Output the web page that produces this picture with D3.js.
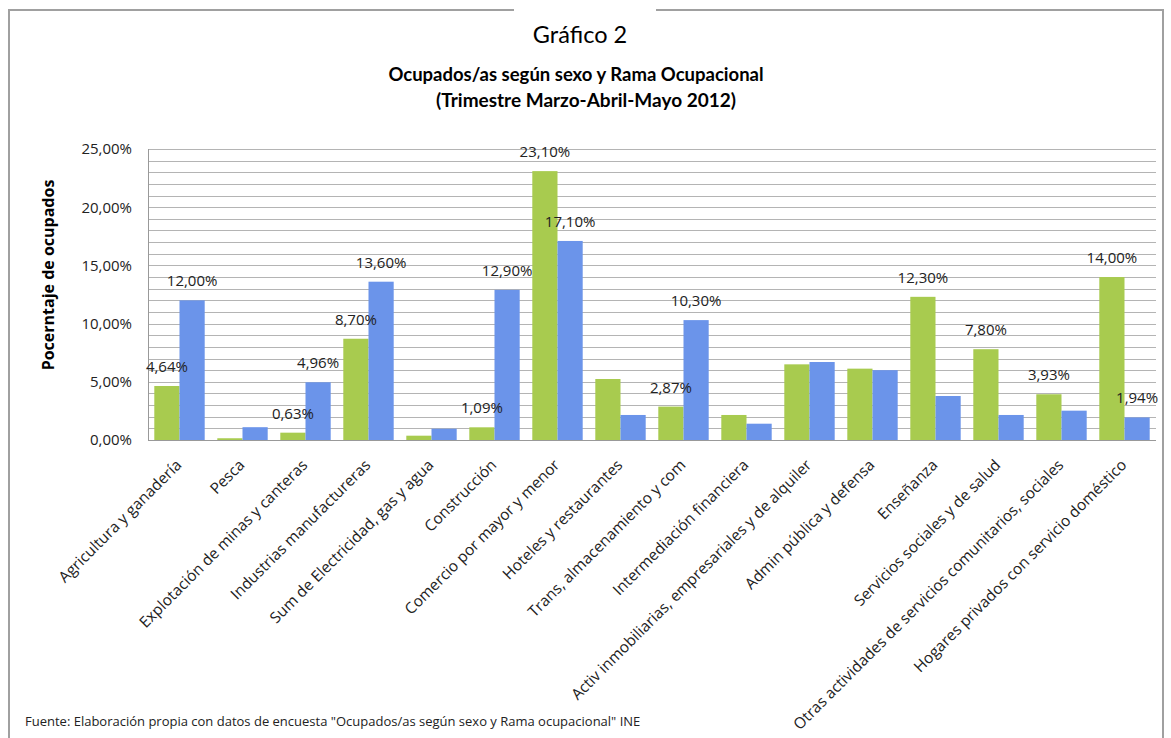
<!DOCTYPE html>
<html>
<head>
<meta charset="utf-8">
<script src="https://cdn.jsdelivr.net/npm/d3@7"></script>
<style>
  body { margin: 0; background: #fff; overflow: hidden; }
  svg { display: block; font-family: "Open Sans", sans-serif; }
  .title { font-family: Lato, sans-serif; fill: #000; }
  .grid line { stroke: #b4b4b4; stroke-width: 1; }
  .val { font-size: 15px; fill: #222; text-anchor: middle; }
</style>
</head>
<body>
<div id="chart"></div>
<script>
"use strict";

// ramas de actividad
const categories = [
  "Agricultura y ganadería", "Pesca", "Explotación de minas y canteras",
  "Industrias manufactureras", "Sum de Electricidad, gas y agua", "Construcción",
  "Comercio por mayor y menor", "Hoteles y restaurantes", "Trans, almacenamiento y com",
  "Intermediación financiera", "Activ inmobiliarias, empresariales y de alquiler",
  "Admin pública y defensa", "Enseñanza", "Servicios sociales y de salud",
  "Otras actividades de servicios comunitarios, sociales",
  "Hogares privados con servicio doméstico"
];

// % ocupados (verde / azul)
const mujeres = [4.64, 0.15, 0.63, 8.70, 0.37, 1.09, 23.10, 5.24, 2.87, 2.15, 6.50, 6.13, 12.30, 7.80, 3.93, 14.00];
const hombres = [12.00, 1.10, 4.96, 13.60, 0.97, 12.90, 17.10, 2.15, 10.30, 1.40, 6.70, 6.00, 3.78, 2.15, 2.52, 1.94];

// which bars carry a value label
const labelMujeres = [1, 0, 1, 1, 0, 1, 1, 0, 1, 0, 0, 0, 1, 1, 1, 1];
const labelHombres = [1, 0, 1, 1, 0, 1, 1, 0, 1, 0, 0, 0, 0, 0, 0, 1];

const yTicks = [0, 5, 10, 15, 20, 25];
const gridValues = d3.range(0, 26, 1);

const width = 1171, height = 738;
const margin = { top: 149, right: 15, bottom: 298, left: 148 };
const innerWidth = width - margin.left - margin.right;
const innerHeight = height - margin.top - margin.bottom;

const colors = { m: "#a8cb4f", h: "#6b94ea" };

const locale = d3.formatLocale({ decimal: ",", thousands: ".", grouping: [3], currency: ["", ""] });
const pct = v => locale.format(".2f")(v) + "%";

const svg = d3.select("#chart").append("svg")
  .attr("width", width)
  .attr("height", height);

// frame
const frame = svg.append("g").attr("stroke", "#a0a0a0").attr("stroke-width", 2).attr("fill", "none");
frame.append("path").attr("d", `M9,${height} V10 H514`);
frame.append("path").attr("d", `M656,10 H1163 V${height}`);

// titles
svg.append("text").attr("class", "title")
  .attr("x", 580).attr("y", 43)
  .attr("text-anchor", "middle")
  .style("font-size", "23.5px")
  .text("Gráfico 2");
svg.append("text").attr("class", "title")
  .attr("x", 576).attr("y", 81)
  .attr("text-anchor", "middle")
  .style("font-size", "18.5px").style("font-weight", "bold")
  .text("Ocupados/as según sexo y Rama Ocupacional");
svg.append("text").attr("class", "title")
  .attr("x", 586).attr("y", 107)
  .attr("text-anchor", "middle")
  .style("font-size", "19px").style("font-weight", "bold")
  .text("(Trimestre Marzo-Abril-Mayo 2012)");

const container = svg.append("g")
  .attr("transform", `translate(${margin.left}, ${margin.top})`);

const xScale = d3.scaleBand()
  .domain(categories)
  .range([0, innerWidth])
  .paddingInner(0.2)
  .paddingOuter(0.1);

const xSub = d3.scaleBand()
  .domain(["m", "h"])
  .range([0, xScale.bandwidth()]);

const yScale = d3.scaleLinear()
  .domain([0, 25])
  .range([innerHeight, 0]);

// gridlines
container.append("g").attr("class", "grid")
  .selectAll("line")
  .data(gridValues).enter()
  .append("line")
    .attr("x1", 0).attr("x2", innerWidth)
    .attr("y1", d => Math.round(yScale(d)) + 0.5)
    .attr("y2", d => Math.round(yScale(d)) + 0.5);

// y axis
const yAxis = d3.axisLeft(yScale)
  .tickValues(yTicks)
  .tickFormat(pct)
  .tickSize(0)
  .tickPadding(16);
const yAxisG = container.append("g").call(yAxis);
yAxisG.select(".domain").remove();
yAxisG.selectAll("text")
  .style("font-family", "'Open Sans', sans-serif")
  .style("font-size", "15px")
  .attr("fill", "#222");

container.append("line")
  .attr("x1", 0.5).attr("x2", 0.5)
  .attr("y1", 0).attr("y2", innerHeight)
  .attr("stroke", "#999");

// bars
const rows = categories.map((c, i) => ({
  category: c,
  values: [
    { key: "m", value: mujeres[i], label: labelMujeres[i] },
    { key: "h", value: hombres[i], label: labelHombres[i] }
  ]
}));

const groups = container.selectAll(".cat")
  .data(rows).enter()
  .append("g")
    .attr("class", "cat")
    .attr("transform", d => `translate(${xScale(d.category)}, 0)`);

groups.selectAll("rect")
  .data(d => d.values).enter()
  .append("rect")
    .attr("x", d => xSub(d.key))
    .attr("y", d => yScale(d.value))
    .attr("width", xSub.bandwidth())
    .attr("height", d => innerHeight - yScale(d.value))
    .attr("fill", d => colors[d.key]);

groups.selectAll(".val")
  .data(d => d.values.filter(v => v.label)).enter()
  .append("text")
    .attr("class", "val")
    .attr("x", d => xSub(d.key) + xSub.bandwidth() / 2)
    .attr("y", d => yScale(d.value) - 14)
    .text(d => pct(d.value));

// x axis
container.append("line")
  .attr("x1", 0).attr("x2", innerWidth)
  .attr("y1", innerHeight + 0.5).attr("y2", innerHeight + 0.5)
  .attr("stroke", "#999");

const xAxis = d3.axisBottom(xScale).tickSize(0);
const xAxisG = container.append("g")
  .attr("transform", `translate(0, ${innerHeight})`)
  .call(xAxis);
xAxisG.select(".domain").remove();
xAxisG.selectAll("text")
  .style("font-family", "'Open Sans', sans-serif")
  .style("font-size", "15.4px")
  .attr("fill", "#222")
  .attr("text-anchor", "end")
  .attr("x", 0).attr("y", 0).attr("dy", 0)
  .attr("transform", "translate(3, 26) rotate(-45)");

// y axis title
svg.append("text")
  .attr("transform", "translate(54, 275) rotate(-90)")
  .attr("text-anchor", "middle")
  .style("font-size", "16px")
  .style("font-weight", "bold")
  .text("Pocerntaje de ocupados");

// source
svg.append("text")
  .attr("x", 25).attr("y", 726)
  .style("font-size", "13px")
  .attr("fill", "#222")
  .text("Fuente: Elaboración propia con datos de encuesta \"Ocupados/as según sexo y Rama ocupacional\" INE");
</script>
</body>
</html>
